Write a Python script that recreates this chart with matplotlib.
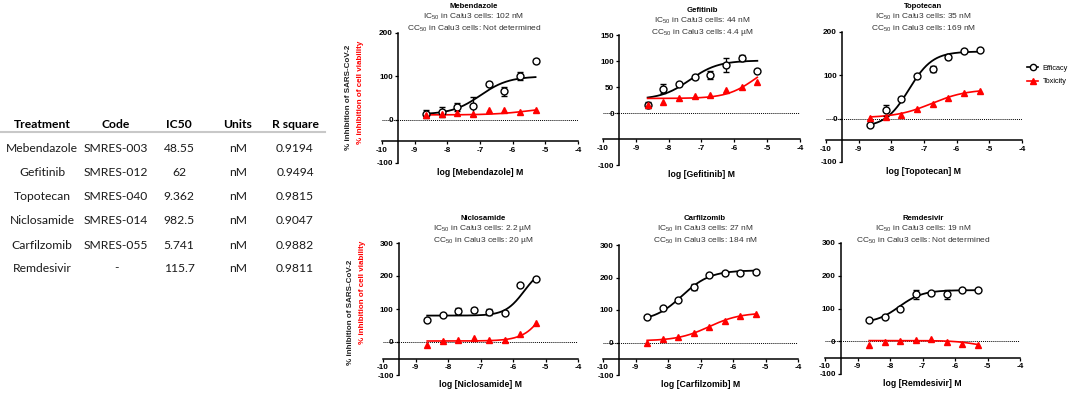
import numpy as np
import matplotlib
matplotlib.use("Agg")
import matplotlib.pyplot as plt
from matplotlib.lines import Line2D

plt.rcParams['font.family'] = ['Liberation Sans', 'DejaVu Sans']
plt.rcParams['mathtext.fontset'] = 'custom'
plt.rcParams['mathtext.rm'] = 'Liberation Sans'
plt.rcParams['axes.unicode_minus'] = False

# ---- table data ----
table_header = ["Treatment", "Code", "IC50", "Units", "R square"]
treatments = ["Mebendazole", "Gefitinib", "Topotecan", "Niclosamide", "Carfilzomib", "Remdesivir"]
codes = ["SMRES-003", "SMRES-012", "SMRES-040", "SMRES-014", "SMRES-055", "-"]
ic50_values = ["48.55", "62", "9.362", "982.5", "5.741", "115.7"]
units = ["nM", "nM", "nM", "nM", "nM", "nM"]
r_square = ["0.9194", "0.9494", "0.9815", "0.9047", "0.9882", "0.9811"]

# ---- dose response data ----
log_conc = [-8.64, -8.16, -7.69, -7.21, -6.73, -6.26, -5.78, -5.30]

panel_names = ["Mebendazole", "Gefitinib", "Topotecan", "Niclosamide", "Carfilzomib", "Remdesivir"]
ic50_text = ["102 nM", "44 nM", "35 nM", "2.2 \u00b5M", "27 nM", "19 nM"]
cc50_text = ["Not determined", "4.4 \u00b5M", "169 nM", "20 \u00b5M", "184 nM", "Not determined"]

efficacy = [
    [13, 17, 29, 31, 83, 65, 101, 136],
    [16, 47, 55, 69, 73, 92, 106, 81],
    [-14, 19, 46, 98, 115, 142, 156, 159],
    [66, 82, 93, 97, 91, 88, 172, 192],
    [80, 106, 130, 171, 207, 214, 214, 216],
    [66, 74, 97, 144, 147, 143, 156, 155],
]
efficacy_err = [
    [10, 12, 10, 22, 3, 10, 10, 5],
    [6, 9, 3, 3, 8, 14, 6, 3],
    [3, 12, 3, 4, 7, 4, 2, 2],
    [3, 3, 9, 7, 9, 3, 3, 3],
    [2, 2, 3, 8, 2, 2, 2, 2],
    [2, 2, 2, 14, 2, 14, 2, 2],
]
toxicity = [
    [10, 12, 15, 12, 23, 23, 18, 22],
    [16, 22, 28, 32, 34, 45, 50, 59],
    [2, 4, 9, 22, 35, 48, 60, 65],
    [-10, 2, 5, 11, 7, 6, 24, 58],
    [-1, 11, 17, 29, 47, 66, 82, 87],
    [-10, -1, 2, 4, 7, -1, -7, -11],
]
# 4PL fit parameters: bottom, top, logEC50, hill
eff_fit = [
    [12, 100, -6.99, 1.0],
    [26, 101, -7.36, 1.0],
    [-20, 155, -7.46, 1.2],
    [80, 228, -5.66, 1.5],
    [65, 222, -7.57, 1.0],
    [55, 156, -7.72, 1.2],
]
tox_fit = [
    [11, 30, -5.5, 0.8],
    [28, 104, -5.36, 1.0],
    [2, 68, -6.77, 0.8],
    [3, 328, -4.7, 1.2],
    [5, 92, -6.74, 0.9],
    [2, -22, -5.3, 1.2],
]
y_ticks = [
    [-100, 0, 100, 200],
    [-100, 0, 50, 100, 150],
    [-100, 0, 100, 200],
    [-100, 0, 100, 200, 300],
    [-100, 0, 100, 200, 300],
    [-100, 0, 100, 200, 300],
]
x_ticks = [-10, -9, -8, -7, -6, -5, -4]

W, H = 1072, 396
fig = plt.figure(figsize=(W / 100, H / 100), dpi=100)

def px(x, y):
    return x / W, 1 - y / H

# ---- table ----
col_x = [42, 116, 179, 238, 295]
for cx, h in zip(col_x, table_header):
    fig.text(*px(cx, 125), h, ha='center', va='center', fontsize=8.7,
             fontweight='bold', family=['Lato', 'DejaVu Sans'])
fig.add_artist(Line2D([0, 325 / W], [1 - 132 / H] * 2, color='#c8c8c8', lw=1.5))
row_y = [149, 172, 197, 220, 245, 268]
for i, ry in enumerate(row_y):
    row = [treatments[i], codes[i], ic50_values[i], units[i], r_square[i]]
    for cx, val in zip(col_x, row):
        fig.text(*px(cx, ry), val, ha='center', va='center', fontsize=8.7,
                 family=['Lato', 'DejaVu Sans'], color='#1a1a1a')

# ---- panels ----
# (left px, right px, top px, bottom px) for data area, title center px, title top y
layout = [
    (382, 578, 33, 163, 474, 5),
    (603, 800, 35, 165, 702, 9),
    (826, 1022, 32, 162, 923, 5),
    (383, 578, 243, 375, 483, 217),
    (603, 798, 245, 375, 705, 217),
    (825, 1020, 243, 374, 923, 217),
]

def four_pl(x, p):
    b, t, ec, h = p
    return b + (t - b) / (1 + 10 ** ((ec - x) * h))

for i in range(6):
    l, r, t, b, tcx, tty = layout[i]
    ax = fig.add_axes([l / W, 1 - b / H, (r - l) / W, (b - t) / H])
    ymax = y_ticks[i][-1]
    ax.set_xlim(-10, -4)
    ax.set_ylim(-100, ymax)
    ax.patch.set_alpha(0)
    for s in ['top', 'right']:
        ax.spines[s].set_visible(False)
    ax.spines['left'].set_position(('data', -9.5))
    ax.spines['bottom'].set_position(('data', -50))
    ax.spines['left'].set_bounds(-100, ymax)
    ax.spines['bottom'].set_bounds(-10, -4)
    ax.spines['left'].set_linewidth(1.1)
    ax.spines['bottom'].set_linewidth(1.1)
    ax.set_xticks(x_ticks)
    ax.set_yticks(y_ticks[i])
    ax.tick_params(labelsize=5.9, width=0.9, length=2.5, pad=1.5)
    for lab in ax.get_xticklabels() + ax.get_yticklabels():
        lab.set_fontweight('bold')

    ax.axhline(0, color='black', lw=0.7, ls=(0, (1, 1)))

    xs = np.linspace(log_conc[0], log_conc[-1], 200)
    ax.plot(xs, four_pl(xs, eff_fit[i]), color='black', lw=1.3, clip_on=False)
    ax.plot(xs, four_pl(xs, tox_fit[i]), color='red', lw=1.2, clip_on=False)
    ax.errorbar(log_conc, efficacy[i], yerr=efficacy_err[i], fmt='o', mfc='white',
                mec='black', color='black', ms=5, mew=1.0, elinewidth=0.9,
                capsize=2.2, capthick=0.9, clip_on=False, zorder=5)
    ax.plot(log_conc, toxicity[i], '^', color='red', ms=3.8, clip_on=False, zorder=6)

    ax.text(0.5, -0.07, "log [%s] M" % panel_names[i], transform=ax.transAxes,
            ha='center', va='center', fontsize=6.3, fontweight='bold')

    fig.text(*px(tcx, tty + 1), panel_names[i], ha='center', va='center',
             fontsize=5.6, fontweight='bold')
    fig.text(*px(tcx, tty + 12), "IC$_{50}$ in Calu3 cells: " + ic50_text[i],
             ha='center', va='center', fontsize=6.0, color='#333333')
    fig.text(*px(tcx, tty + 24), "CC$_{50}$ in Calu3 cells: " + cc50_text[i],
             ha='center', va='center', fontsize=6.0, color='#333333')

# y labels for left panels
for (bx, by, rx, ry) in [(348, 97, 360, 92), (350, 312, 362, 292)]:
    fig.text(*px(bx, by), "% inhibition of SARS-CoV-2", rotation=90, ha='center',
             va='center', fontsize=5.8, fontweight='bold', color='#222222')
    fig.text(*px(rx, ry), "% inhibition of cell viability", rotation=90, ha='center',
             va='center', fontsize=5.8, fontweight='bold', color='red')

handles = [
    Line2D([], [], color='black', marker='o', mfc='white', mec='black', ms=4.5, lw=1.2),
    Line2D([], [], color='red', marker='^', ms=3.8, lw=1.2),
]
fig.legend(handles, ["Efficacy", "Toxicity"], loc='center left',
           bbox_to_anchor=(1020 / W, 1 - 75 / H), frameon=False, fontsize=5.3,
           handlelength=1.6, handletextpad=0.6, labelspacing=0.8)

plt.savefig("out.png", dpi=100)
